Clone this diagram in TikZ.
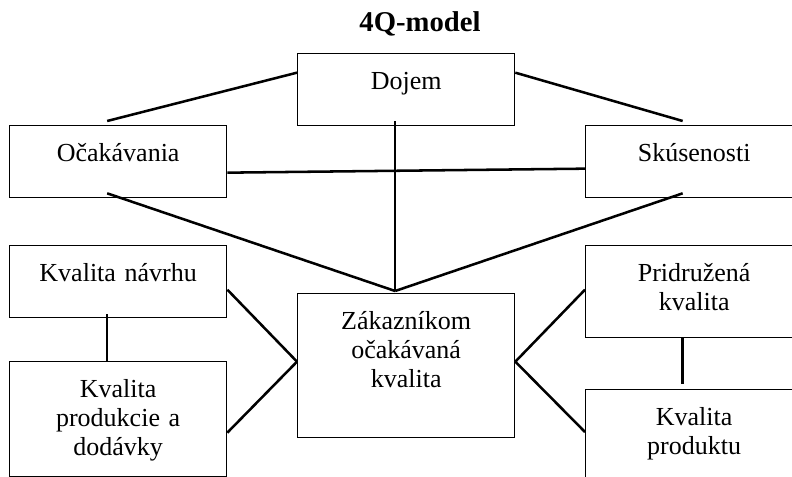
\documentclass[tikz,border=0pt]{standalone}
\usepackage{fontspec}
\setmainfont{Liberation Serif}
\usetikzlibrary{calc}
\tikzstyle{box}=[draw, line width=1pt, anchor=north west, inner sep=0pt, text width=162.75pt, align=center, text height=27pt, text depth=27pt, font=\fontsize{19.5}{21.8}\selectfont]
\tikzstyle{link}=[line width=1.9pt]

\begin{document}
\begin{tikzpicture}[x=0.75pt, y=-0.75pt]
\clip (0,0) rectangle (792,477);
\node[font=\fontsize{21.5}{24}\selectfont\bfseries, anchor=base] (Title) at (420,32) {4Q-model};
\node[box] at (297,53) (Dojem) {Dojem};
\node[box] at (9,125) (Ocak) {Očakávania};
\node[box] at (585,125) (Skus) {Skúsenosti};
\node[box] at (9,245) (Navrh) {Kvalita návrhu};
\node[box, text depth=59.25pt] at (9,361) (Produkcia) {Kvalita\\produkcie a\\dodávky};
\node[box, text depth=81pt] at (297,293) (Zak) {Zákazníkom\\očakávaná\\kvalita};
\node[box, text depth=42pt] at (585,245) (Pridruz) {Pridružená\\kvalita};
\node[box, text depth=54pt] at (585,389) (Produkt) {Kvalita\\produktu};
\draw[link] ($(Ocak.north)+(-11,-4)$) -- ($(Dojem.west)+(0,-17)$);
\draw[link] ($(Dojem.east)+(0,-17)$) -- ($(Skus.north)+(-11.5,-4)$);
\draw[link] ($(Ocak.east)+(0,11)$) -- ($(Skus.west)+(0,7)$);
\draw[link] ($(Dojem.south)+(-11,-5)$) -- ($(Zak.north)+(-11,-2)$);
\draw[link] ($(Ocak.south)+(-11,-5)$) -- ($(Zak.north)+(-11,-2)$);
\draw[link] ($(Skus.south)+(-11.5,-5)$) -- ($(Zak.north)+(-11,-2)$);
\draw[link] ($(Navrh.east)+(0,8)$) -- ($(Zak.west)+(0,-4)$);
\draw[link] ($(Produkcia.east)+(0,13.5)$) -- ($(Zak.west)+(0,-4)$);
\draw[link] ($(Zak.east)+(0,-4)$) -- ($(Pridruz.west)+(0,-2)$);
\draw[link] ($(Zak.east)+(0,-4)$) -- ($(Produkt.north west)+(0,43)$);
\draw[link] ($(Navrh.south)+(-11,-4)$) -- ($(Produkcia.north)+(-11,0)$);
\draw[link] ($(Pridruz.south)+(-11.5,0)$) -- ($(Produkt.north)+(-11.5,-5)$);
\end{tikzpicture}
\end{document}
